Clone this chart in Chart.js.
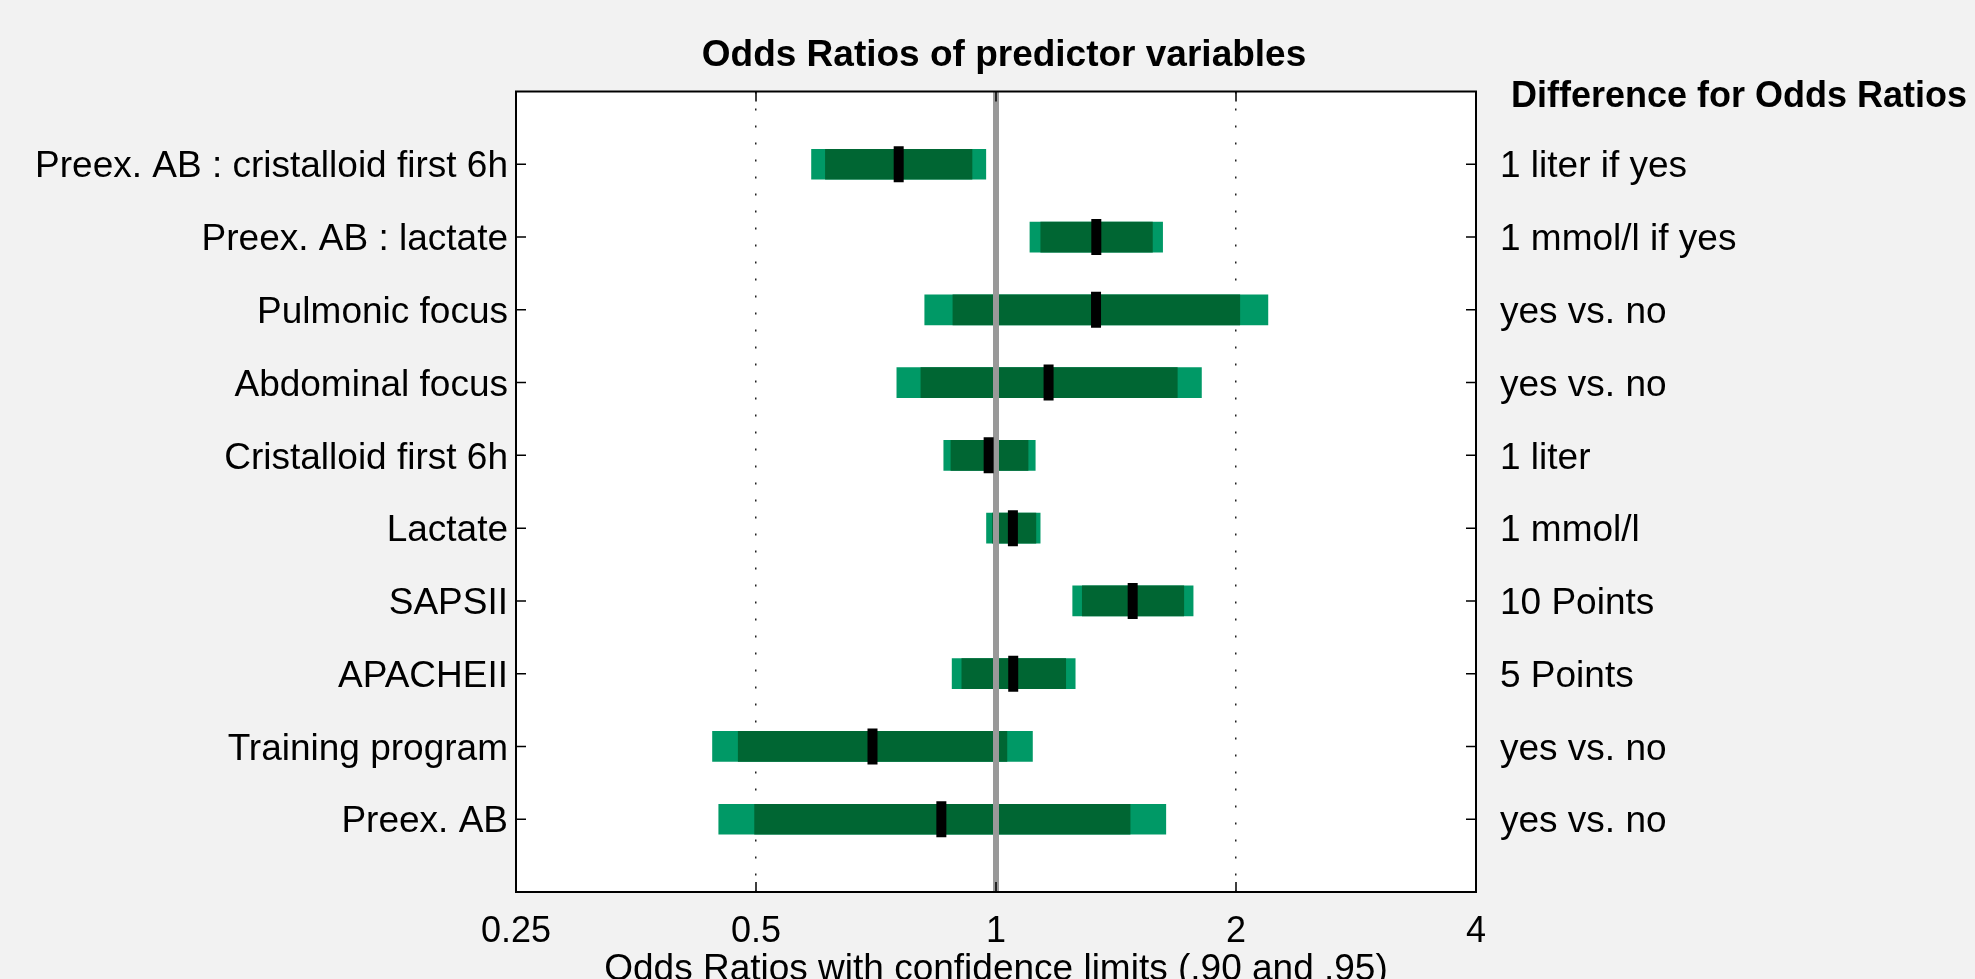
<!DOCTYPE html>
<html>
<head>
<meta charset="utf-8">
<script src="https://cdn.jsdelivr.net/npm/chart.js@4.4.1/dist/chart.umd.min.js"></script>
<style>
  html, body { margin: 0; padding: 0; background: #f2f2f2; }
  #chart-box { width: 1975px; height: 979px; }
</style>
</head>
<body>
<div id="chart-box"><canvas id="orChart" width="1975" height="979"></canvas></div>
<script>
// rows, top to bottom
const predictors = [
  "Preex. AB : cristalloid first 6h",
  "Preex. AB : lactate",
  "Pulmonic focus",
  "Abdominal focus",
  "Cristalloid first 6h",
  "Lactate",
  "SAPSII",
  "APACHEII",
  "Training program",
  "Preex. AB",
];
const differences = [
  "1 liter if yes",
  "1 mmol/l if yes",
  "yes vs. no",
  "yes vs. no",
  "1 liter",
  "1 mmol/l",
  "10 Points",
  "5 Points",
  "yes vs. no",
  "yes vs. no",
];
const rowPositions = [1, 2, 3, 4, 5, 6, 7, 8, 9, 10];

// odds ratios and confidence limits (.95 outer, .90 inner)
const lower95 = [0.587, 1.103, 0.814, 0.751, 0.860, 0.973, 1.248, 0.881, 0.441, 0.449];
const lower90 = [0.611, 1.138, 0.883, 0.805, 0.878, 0.990, 1.283, 0.906, 0.475, 0.498];
const oddsRatios = [0.755, 1.336, 1.335, 1.164, 0.979, 1.050, 1.484, 1.051, 0.700, 0.854];
const upper90 = [0.933, 1.571, 2.022, 1.688, 1.097, 1.122, 1.720, 1.223, 1.032, 1.473];
const upper95 = [0.971, 1.618, 2.193, 1.810, 1.120, 1.136, 1.767, 1.257, 1.111, 1.633];

const xTickValues = [0.25, 0.5, 1, 2, 4];
const xTickLabels = ["0.25", "0.5", "1", "2", "4"];
const refValue = 1;
const yMin = 0;
const yMax = 11;

const FONT = "'Liberation Sans', Arial, Helvetica, sans-serif";
Chart.defaults.font.family = FONT;
Chart.defaults.color = "#000";

const ctx = document.getElementById("orChart");

// white plot box, frame, inward ticks, headings
const framePlugin = {
  id: "frame",
  beforeDraw(chart) {
    const { ctx, chartArea: a } = chart;
    ctx.save();
    ctx.fillStyle = "#f2f2f2";
    ctx.fillRect(0, 0, chart.width, chart.height);
    ctx.fillStyle = "#ffffff";
    ctx.fillRect(a.left, a.top, a.right - a.left, a.bottom - a.top);
    ctx.restore();
  },
  afterDraw(chart) {
    const { ctx, chartArea: a, scales } = chart;
    ctx.save();
    ctx.strokeStyle = "#000";
    ctx.lineWidth = 1.5;
    ctx.beginPath();
    xTickValues.forEach((v) => {
      const px = scales.x.getPixelForValue(v);
      ctx.moveTo(px, a.bottom);
      ctx.lineTo(px, a.bottom - 10);
      ctx.moveTo(px, a.top);
      ctx.lineTo(px, a.top + 10);
    });
    rowPositions.forEach((r) => {
      const py = scales.y.getPixelForValue(r);
      ctx.moveTo(a.left, py);
      ctx.lineTo(a.left + 10, py);
      ctx.moveTo(a.right, py);
      ctx.lineTo(a.right - 10, py);
    });
    ctx.stroke();
    ctx.lineWidth = 2;
    ctx.strokeRect(a.left, a.top, a.right - a.left, a.bottom - a.top);

    ctx.fillStyle = "#000";
    ctx.textBaseline = "alphabetic";
    ctx.font = "bold 37px " + FONT;
    ctx.textAlign = "center";
    ctx.fillText("Odds Ratios of predictor variables", 1004, 66);
    ctx.font = "bold 36px " + FONT;
    ctx.textAlign = "left";
    ctx.fillText("Difference for Odds Ratios", 1511, 107);
    ctx.restore();
  },
};

const orChart = new Chart(ctx, {
  type: "bar",
  data: {
    datasets: [
      {
        label: "95%",
        data: rowPositions.map((y, i) => ({ y: y, x: [lower95[i], upper95[i]] })),
        backgroundColor: "#009966",
        barThickness: 30,
        grouped: false,
        order: 4,
      },
      {
        label: "90%",
        data: rowPositions.map((y, i) => ({ y: y, x: [lower90[i], upper90[i]] })),
        backgroundColor: "#006633",
        barThickness: 30,
        grouped: false,
        order: 3,
      },
      {
        type: "line",
        label: "reference",
        data: [
          { x: refValue, y: yMin },
          { x: refValue, y: yMax },
        ],
        borderColor: "#999999",
        borderWidth: 6,
        pointRadius: 0,
        fill: false,
        order: 2,
      },
      {
        type: "scatter",
        label: "odds ratio",
        data: rowPositions.map((y, i) => ({ x: oddsRatios[i], y: y })),
        pointStyle: "line",
        pointRadius: 18,
        pointRotation: 90,
        pointBorderWidth: 10,
        pointBorderColor: "#000",
        pointBackgroundColor: "#000",
        order: 1,
      },
    ],
  },
  options: {
    indexAxis: "y",
    responsive: false,
    animation: false,
    devicePixelRatio: 1,
    events: [],
    layout: { padding: { top: 91.5, left: 0, right: 0, bottom: 0 } },
    plugins: {
      legend: { display: false },
      tooltip: { enabled: false },
    },
    scales: {
      x: {
        type: "logarithmic",
        min: 0.25,
        max: 4,
        afterBuildTicks: (s) => {
          s.ticks = xTickValues.map((v) => ({ value: v }));
        },
        afterFit: (s) => {
          s.height = 87;
        },
        ticks: {
          callback: (v, i) => xTickLabels[i],
          autoSkip: false,
          maxRotation: 0,
          padding: 18,
          font: { size: 36 },
        },
        grid: {
          drawTicks: false,
          lineWidth: 1.5,
          color: (c) =>
            c.tick && c.tick.value > 0.25 && c.tick.value < 4 ? "#222" : "rgba(0,0,0,0)",
        },
        border: { display: false, dash: [2, 15] },
        title: {
          display: true,
          text: "Odds Ratios with confidence limits (.90 and .95)",
          font: { size: 37, lineHeight: 0.5 },
          padding: 0,
        },
      },
      y: {
        type: "linear",
        min: yMin,
        max: yMax,
        reverse: true,
        offset: false,
        afterBuildTicks: (s) => {
          s.ticks = rowPositions.map((v) => ({ value: v }));
        },
        afterFit: (s) => {
          s.width = 516;
        },
        ticks: {
          callback: (v) => predictors[rowPositions.indexOf(v)],
          autoSkip: false,
          padding: 8,
          labelOffset: 3,
          font: { size: 37 },
        },
        grid: { display: false, drawTicks: false, offset: false },
        border: { display: false },
      },
      y2: {
        type: "linear",
        position: "right",
        min: yMin,
        max: yMax,
        reverse: true,
        offset: false,
        afterBuildTicks: (s) => {
          s.ticks = rowPositions.map((v) => ({ value: v }));
        },
        afterFit: (s) => {
          s.width = 499;
        },
        ticks: {
          callback: (v) => differences[rowPositions.indexOf(v)],
          autoSkip: false,
          padding: 24,
          labelOffset: 3,
          font: { size: 37 },
        },
        grid: { display: false, drawTicks: false, offset: false },
        border: { display: false },
      },
    },
  },
  plugins: [framePlugin],
});
</script>
</body>
</html>
